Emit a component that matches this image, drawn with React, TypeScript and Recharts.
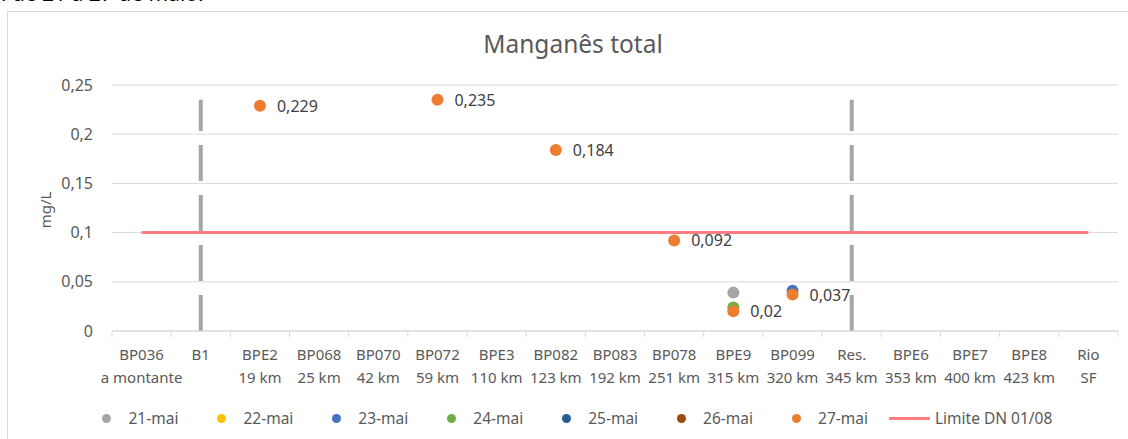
import React from 'react';
import { ComposedChart, Line, XAxis, YAxis, CartesianGrid, ReferenceLine, LabelList } from 'recharts';

// pontos de coleta (linha 1 e linha 2 do rótulo do eixo X)
const estacoes = ['BP036', 'B1', 'BPE2', 'BP068', 'BP070', 'BP072', 'BPE3', 'BP082', 'BP083', 'BP078', 'BPE9', 'BP099', 'Res.', 'BPE6', 'BPE7', 'BPE8', 'Rio'];
const distancias = ['a montante', '', '19 km', '25 km', '42 km', '59 km', '110 km', '123 km', '192 km', '251 km', '315 km', '320 km', '345 km', '353 km', '400 km', '423 km', 'SF'];

// valores medidos por dia (mg/L), null = sem ponto
const mai21 = [null, null, null, null, null, null, null, null, null, null, 0.039, null, null, null, null, null, null];
const mai22 = [null, null, null, null, null, null, null, null, null, null, null, null, null, null, null, null, null];
const mai23 = [null, null, null, null, null, null, null, null, null, null, null, 0.041, null, null, null, null, null];
const mai24 = [null, null, null, null, null, null, null, null, null, null, 0.024, null, null, null, null, null, null];
const mai25 = [null, null, null, null, null, null, null, null, null, null, null, null, null, null, null, null, null];
const mai26 = [null, null, null, null, null, null, null, null, null, null, null, null, null, null, null, null, null];
const mai27 = [null, null, 0.229, null, null, 0.235, null, 0.184, null, 0.092, 0.02, 0.037, null, null, null, null, null];

const limite = 0.1;
const yTicks = [0, 0.05, 0.1, 0.15, 0.2, 0.25];
const divisores = ['B1', 'Res.'];
const divisorTopo = 0.235;

const series = [
  { key: 'd21', nome: '21-mai', valores: mai21, cor: '#a5a5a5' },
  { key: 'd22', nome: '22-mai', valores: mai22, cor: '#ffc000' },
  { key: 'd23', nome: '23-mai', valores: mai23, cor: '#4472c4' },
  { key: 'd24', nome: '24-mai', valores: mai24, cor: '#70ad47' },
  { key: 'd25', nome: '25-mai', valores: mai25, cor: '#255e91' },
  { key: 'd26', nome: '26-mai', valores: mai26, cor: '#9e480e' },
  { key: 'd27', nome: '27-mai', valores: mai27, cor: '#ed7d31' },
];

const data = estacoes.map((e, i) => {
  const row: any = { cat: e, limite };
  series.forEach((s) => { row[s.key] = s.valores[i]; });
  return row;
});

const FONT = "'Noto Sans', sans-serif";
const TXT = '#595959';
const PLOT_W = 1006;
const BAND = PLOT_W / estacoes.length;

const fmt = (v: number) => String(v).replace('.', ',');

const XTick = (props: any) => {
  const { x, y, payload } = props;
  const i = estacoes.indexOf(payload.value);
  const h = BAND / 2;
  return (
    <g>
      <line x1={x - h} x2={x - h} y1={y} y2={y + 6} stroke="#d9d9d9" />
      {i === estacoes.length - 1 && <line x1={x + h} x2={x + h} y1={y} y2={y + 6} stroke="#d9d9d9" />}
      <text x={x} y={y} textAnchor="middle" fill={TXT} fontSize={15} fontFamily={FONT}>
        <tspan x={x} dy={29}>{estacoes[i]}</tspan>
        <tspan x={x} dy={23}>{distancias[i]}</tspan>
      </text>
    </g>
  );
};

const RotuloValor = (props: any) => {
  const { x, y, value } = props;
  if (value == null) return null;
  return (
    <text x={x + 17} y={y} dominantBaseline="central" fill="#404040" fontSize={16} fontFamily={FONT}>
      {fmt(value)}
    </text>
  );
};

const RotuloY = (props: any) => {
  const vb = props.viewBox;
  const cx = vb.x + 13;
  const cy = vb.y + vb.height / 2 + 2;
  return (
    <text x={cx} y={cy} transform={`rotate(-90 ${cx} ${cy})`} textAnchor="middle" dominantBaseline="central" fill={TXT} fontSize={15} fontFamily={FONT}>
      mg/L
    </text>
  );
};

const Legenda = () => (
  <div style={{ position: 'absolute', top: 403, left: 102, height: 30, display: 'flex', alignItems: 'center', fontFamily: FONT, fontSize: 15.5, color: TXT }}>
    {series.map((s, i) => (
      <div key={s.key} style={{ display: 'flex', alignItems: 'center', marginRight: i === series.length - 1 ? 21 : 38.5 }}>
        <span style={{ width: 9, height: 9, borderRadius: '50%', background: s.cor, marginRight: 17.5, display: 'inline-block' }} />
        <span>{s.nome}</span>
      </div>
    ))}
    <div style={{ display: 'flex', alignItems: 'center' }}>
      <span style={{ width: 41, height: 3, background: '#ff7c80', marginRight: 5, display: 'inline-block' }} />
      <span>Limite DN 01/08</span>
    </div>
  </div>
);

export default function App() {
  return (
    <div style={{ position: 'absolute', left: 0, top: 0, width: 1128, height: 439, overflow: 'hidden', background: '#fff' }}>
      <div style={{ position: 'absolute', left: 1, top: -21, fontFamily: FONT, fontSize: 21, color: '#000', whiteSpace: 'nowrap' }}>
        l de 21 a 27 de maio.
      </div>
      <div style={{ position: 'absolute', left: 7, top: 11, width: 1142, height: 460, border: '1px solid #d9d9d9', boxSizing: 'border-box' }} />
      <div style={{ position: 'absolute', left: 9, width: 1128, top: 27, textAlign: 'center', fontFamily: FONT, fontSize: 24.5, color: TXT }}>
        Manganês total
      </div>
      <div style={{ position: 'absolute', left: 0, top: 0 }}>
        <ComposedChart width={1128} height={439} data={data} margin={{ top: 85, right: 10, bottom: 0, left: 32 }}>
          <CartesianGrid vertical={false} stroke="#d9d9d9" />
          <XAxis dataKey="cat" scale="band" interval={0} height={108} tick={<XTick />} tickLine={false} tickSize={0} tickMargin={0} axisLine={{ stroke: '#d9d9d9' }} />
          <YAxis width={80} domain={[0, 0.25]} ticks={yTicks} tickFormatter={fmt} axisLine={false} tickLine={false} tickMargin={13}
            tick={{ fill: TXT, fontSize: 16, fontFamily: FONT }} label={<RotuloY />} />
          <Line dataKey="limite" stroke="#ff7c80" strokeWidth={3} dot={false} activeDot={false} isAnimationActive={false} />
          {divisores.map((d) => (
            <ReferenceLine key={d} segment={[{ x: d, y: 0 }, { x: d, y: divisorTopo }]} stroke="#a6a6a6" strokeWidth={4} strokeDasharray="36 14" />
          ))}
          {series.map((s) => (
            <Line key={s.key} dataKey={s.key} stroke="none" dot={{ r: 6, fill: s.cor, stroke: 'none' }} activeDot={false} isAnimationActive={false}>
              {s.key === 'd27' && <LabelList dataKey={s.key} content={<RotuloValor />} />}
            </Line>
          ))}
        </ComposedChart>
      </div>
      <Legenda />
    </div>
  );
}
